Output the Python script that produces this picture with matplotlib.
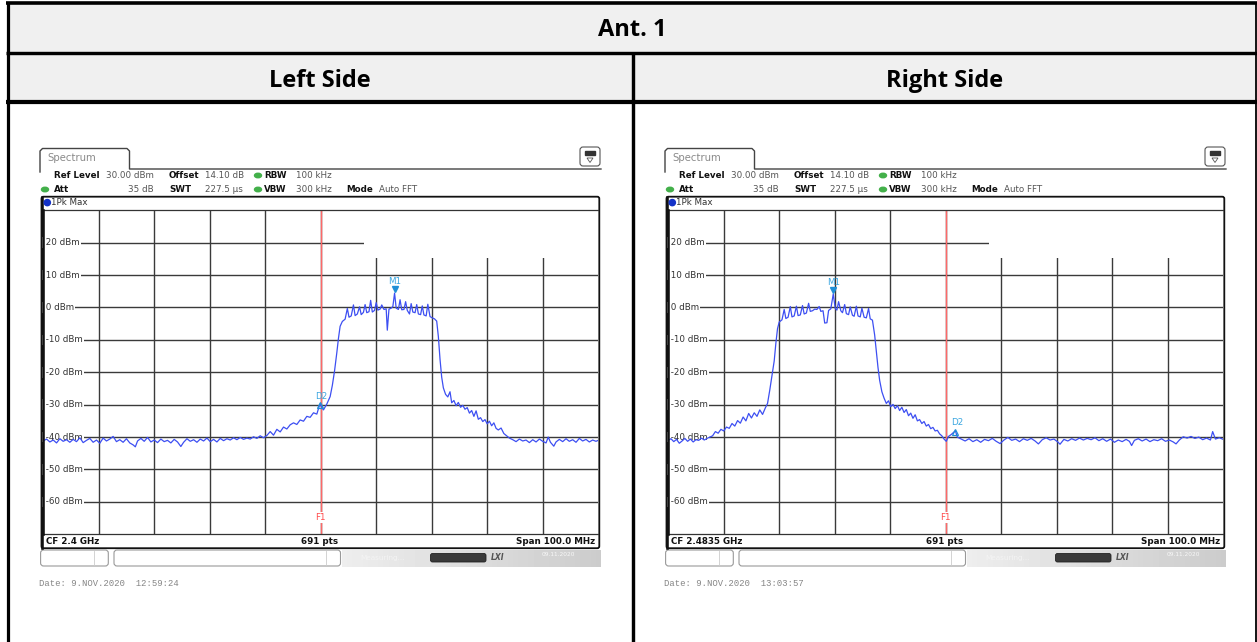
import matplotlib
matplotlib.use('Agg')
import matplotlib.pyplot as plt
from matplotlib.patches import Rectangle, FancyBboxPatch, Circle, Ellipse, Polygon
import numpy as np

W, H = 1257, 642

# trace of the left side screenshot (MHz, dBm)
left_freq = [2350.0, 2350.6, 2351.2, 2351.8, 2352.4, 2353.0, 2353.6, 2354.2, 2354.8, 2355.4,
             2356.0, 2356.6, 2357.2, 2357.8, 2358.4, 2359.0, 2359.6, 2360.2, 2360.8, 2361.4,
             2362.0, 2362.6, 2363.2, 2363.8, 2364.4, 2365.0, 2365.6, 2366.2, 2366.6, 2367.0,
             2367.6, 2368.2, 2368.8, 2369.4, 2370.0, 2370.6, 2371.2, 2371.8, 2372.4, 2373.0,
             2373.6, 2374.2, 2374.8, 2375.3, 2375.9, 2376.5, 2377.1, 2377.7, 2378.3, 2378.9,
             2379.5, 2380.1, 2380.7, 2381.3, 2381.9, 2382.5, 2383.1, 2383.7, 2384.3, 2384.9,
             2385.5, 2386.1, 2386.7, 2387.3, 2387.9, 2388.5, 2389.1, 2389.7,
             2390.3, 2390.9, 2391.5, 2392.1, 2392.7, 2393.3, 2393.9, 2394.5, 2395.1, 2395.7,
             2396.3, 2396.9, 2397.5, 2398.1, 2398.7, 2399.3, 2399.85, 2400.5, 2401.1,
             2401.7, 2402.1, 2402.5, 2402.9, 2403.2, 2403.5, 2403.9, 2404.4,
             2404.8, 2405.1, 2405.5, 2405.9, 2406.2, 2406.6, 2407.0, 2407.3, 2407.7, 2408.0,
             2408.3, 2408.7, 2409.0, 2409.3, 2409.7, 2410.0, 2410.3, 2410.7, 2411.0, 2411.4,
             2411.8, 2412.0, 2412.3, 2412.7, 2413.0, 2413.31, 2413.6, 2414.0, 2414.3, 2414.6,
             2415.0, 2415.3, 2415.6, 2416.0, 2416.3, 2416.6, 2417.0, 2417.3, 2417.6, 2418.0,
             2418.3, 2418.6, 2419.0, 2419.3, 2419.7, 2420.1, 2420.5, 2420.9,
             2421.2, 2421.5, 2421.8, 2422.1, 2422.5, 2422.9, 2423.3, 2423.6, 2424.0, 2424.4,
             2424.8, 2425.2, 2425.6, 2426.0, 2426.4, 2426.8, 2427.2, 2427.6, 2428.0, 2428.4,
             2428.8, 2429.2, 2429.6, 2430.0, 2430.4, 2430.8, 2431.2, 2431.6, 2432.0, 2432.5,
             2433.0, 2433.5, 2434.0,
             2434.6, 2435.2, 2435.8, 2436.4, 2437.0, 2437.6, 2438.2, 2438.8, 2439.4, 2440.0,
             2440.6, 2441.0, 2441.4, 2442.0, 2442.4, 2443.0, 2443.6, 2444.2, 2444.8, 2445.4,
             2446.0, 2446.6, 2447.2, 2447.8, 2448.4, 2449.0, 2449.6, 2450.0]
left_level = [-41.2, -40.6, -41.5, -40.9, -41.8, -40.5, -41.3, -40.8, -41.6, -40.7,
              -41.4, -40.2, -41.7, -41.0, -40.4, -41.6, -40.9, -41.9, -40.3, -41.2,
              -40.6, -39.8, -41.4, -40.8, -41.6, -40.5, -41.8, -42.4, -43.0, -41.2,
              -40.4, -41.3, -40.1, -41.5, -40.9, -41.7, -40.6, -41.4, -41.0, -41.8,
              -40.7, -41.5, -42.9, -41.6, -40.5, -41.3, -40.8, -41.6, -40.6, -41.2,
              -40.3, -41.4, -40.7, -41.5, -40.4, -41.1, -40.5, -40.9, -40.2, -40.8,
              -40.1, -40.7, -40.3, -40.6, -39.9, -40.4, -39.6, -40.2,
              -39.5, -38.3, -39.4, -37.6, -38.4, -36.9, -37.5, -36.2, -35.6, -36.1,
              -34.7, -35.1, -33.6, -33.9, -32.5, -32.9, -29.8, -31.6, -29.8,
              -27.5, -24.0, -19.5, -14.0, -9.5, -5.8, -4.3, -3.6,
              -0.3, -3.0, -2.6, 0.8, -2.5, -2.0, 0.2, -2.2, -1.5, 0.9,
              -1.6, -1.3, 2.2, -1.4, -0.9, 1.5, -0.8, -0.5, 0.8, -0.6,
              -0.4, -7.0, -0.5, -0.2, 0.3, 4.44, -0.2, -0.6, 2.4, -0.7,
              -0.6, 1.8, -0.9, -2.0, 1.2, -1.4, -1.6, 0.9, -2.0, -2.2,
              0.5, -2.3, -2.6, 1.0, -2.8, -3.2, -3.5, -4.2,
              -9.0, -16.0, -21.5, -24.8, -26.8, -27.6, -26.0, -29.4, -28.7, -30.3,
              -29.3, -30.8, -30.2, -31.4, -30.9, -32.6, -31.8, -33.6, -31.9, -34.5,
              -34.0, -35.2, -34.6, -35.9, -35.1, -36.5, -35.6, -37.3, -37.8, -37.2,
              -38.9, -39.6, -40.3,
              -40.8, -41.4, -40.6, -41.2, -40.9, -41.7, -40.8, -41.5, -40.6, -41.3,
              -41.8, -40.0, -41.6, -42.8, -41.5, -40.7, -41.4, -40.5, -41.3, -40.8,
              -41.6, -40.4, -41.2, -40.7, -41.5, -40.9, -41.3, -41.0]

# trace of the right side screenshot (MHz, dBm)
right_freq = [2433.5, 2434.0, 2434.5, 2435.0, 2435.5, 2436.0, 2436.5, 2437.0, 2437.5, 2438.0,
              2438.5, 2439.0, 2439.5, 2440.0, 2440.5, 2441.0, 2441.5,
              2442.0, 2442.5, 2443.0, 2443.5, 2444.0, 2444.5, 2445.0, 2445.5, 2446.0, 2446.5,
              2447.0, 2447.5, 2448.0, 2448.5, 2449.0, 2449.5, 2450.0, 2450.5, 2451.0, 2451.4,
              2451.8, 2452.2, 2452.6, 2452.9, 2453.2, 2453.5, 2454.0,
              2454.4, 2454.7, 2455.1, 2455.5, 2455.8, 2456.2, 2456.6, 2456.9, 2457.3, 2457.7,
              2458.0, 2458.4, 2458.8, 2459.1, 2459.5, 2459.9, 2460.3, 2460.7, 2461.0, 2461.4,
              2461.7, 2462.1, 2462.4, 2462.8, 2463.24, 2463.6, 2463.9, 2464.2, 2464.6, 2464.9,
              2465.3, 2465.6, 2466.0, 2466.3, 2466.7, 2467.0, 2467.4, 2467.7, 2468.1, 2468.4,
              2468.8, 2469.2, 2469.6, 2469.9, 2470.3,
              2470.7, 2471.0, 2471.3, 2471.6, 2472.0, 2472.4, 2472.8, 2473.2, 2473.6, 2474.0,
              2474.4, 2474.8, 2475.2, 2475.6, 2476.0, 2476.4, 2476.8, 2477.2, 2477.6, 2478.0,
              2478.4, 2478.8, 2479.2, 2479.6, 2480.0, 2480.4, 2480.8, 2481.2, 2481.6, 2482.0,
              2482.4, 2482.8, 2483.2, 2483.6, 2484.0, 2484.5, 2485.24, 2485.6,
              2486.3, 2487.0, 2487.7, 2488.4, 2489.1, 2489.8, 2490.5, 2491.2, 2491.9, 2492.6,
              2493.3, 2494.0, 2494.7, 2495.4, 2496.1, 2496.8, 2497.5, 2498.2, 2498.9, 2499.6,
              2500.2, 2500.9, 2501.6, 2502.3, 2503.0, 2503.7, 2504.1, 2504.8, 2505.5, 2506.2,
              2506.9, 2507.6, 2508.3, 2509.0, 2509.7, 2510.4, 2511.1, 2511.8, 2512.5, 2513.2,
              2513.9, 2514.6, 2515.3, 2516.0, 2516.6, 2517.0, 2517.5, 2518.2, 2518.9, 2519.6,
              2520.3, 2521.0, 2521.7, 2522.4, 2523.1, 2523.8, 2524.5, 2525.0, 2525.6, 2526.3,
              2527.0, 2527.7, 2528.4, 2529.1, 2529.8, 2530.5, 2531.2, 2531.6, 2532.1, 2532.8,
              2533.5]
right_level = [-41.0, -40.5, -41.4, -40.7, -41.9, -41.2, -40.4, -41.3, -40.6, -41.5,
               -40.8, -41.0, -40.3, -40.9, -40.4, -40.0, -39.6,
               -38.3, -38.8, -37.6, -38.1, -36.9, -37.3, -35.8, -36.6, -34.9, -35.7,
               -33.8, -35.0, -32.7, -34.1, -32.5, -33.6, -31.6, -33.0, -31.0, -29.6,
               -25.5, -21.0, -16.5, -11.0, -6.5, -4.5, -3.8,
               -0.6, -3.4, -3.0, 0.3, -2.9, -2.6, 0.4, -2.5, -2.3, 0.6,
               -2.0, -1.7, 1.3, -1.2, -1.0, -0.5, -0.6, 0.3, -1.2, -1.0,
               -4.8, -4.7, -0.9, -0.4, 4.18, -0.3, -0.8, 1.8, -1.0, -1.6,
               0.9, -1.9, -2.2, 0.2, -2.4, -2.7, 0.4, -2.6, -2.9, -0.2,
               -3.0, -3.2, -0.3, -3.5, -3.9,
               -8.5, -13.5, -18.5, -22.5, -26.0, -28.0, -29.6, -28.8, -30.6, -29.9,
               -31.2, -30.3, -31.8, -30.8, -32.4, -31.5, -33.4, -32.6, -34.2, -33.1,
               -35.0, -34.6, -35.8, -35.2, -36.6, -36.1, -37.4, -37.0, -38.1, -37.9,
               -39.0, -39.6, -40.6, -41.3, -39.8, -39.2, -38.04, -40.0,
               -40.6, -41.2, -40.5, -41.4, -40.8, -41.6, -40.7, -41.1, -40.4, -41.3,
               -42.0, -40.9, -40.1, -41.0, -40.6, -41.4, -40.5, -41.0, -40.4, -41.2,
               -42.1, -40.8, -40.2, -40.9, -40.6, -41.5, -42.2, -40.7, -41.2, -40.5,
               -41.0, -40.3, -40.9, -40.4, -40.8, -40.2, -41.1, -40.5, -41.3, -40.6,
               -41.6, -40.9, -41.4, -40.7, -41.3, -42.6, -41.0, -40.5, -41.2, -40.6,
               -41.4, -40.8, -41.1, -40.5, -41.3, -40.9, -41.5, -42.1, -40.9, -39.9,
               -40.3, -39.8, -40.4, -40.0, -40.8, -40.3, -40.9, -38.3, -40.6, -40.2,
               -40.7]

level_ticks = [20, 10, 0, -10, -20, -30, -40, -50, -60]
left_readout = ["4.44 dBm", "2.413310 GHz", "-34.23 dB", "-13.459 MHz"]
right_readout = ["4.18 dBm", "2.463240 GHz", "-42.22 dB", "22.000 MHz"]

BLUE_TXT = '#2a9ad8'
MONO = 'Liberation Mono'

fig = plt.figure(figsize=(W / 100, H / 100), dpi=100)
bg = fig.add_axes([0, 0, 1, 1])
bg.set_xlim(0, W)
bg.set_ylim(H, 0)
bg.axis('off')

# table frame and header rows
bg.add_patch(Rectangle((8, 4), 1248, 97, color='#f0f0f0', zorder=0))
k = 0.72  # px -> pt
bg.plot([6, 1257], [3.2, 3.2], color='k', lw=3.6 * k, solid_capstyle='butt')
bg.plot([6, 1257], [52.5, 52.5], color='k', lw=3.4 * k, solid_capstyle='butt')
bg.plot([6, 1257], [101.5, 101.5], color='k', lw=4.2 * k, solid_capstyle='butt')
bg.plot([7.5, 7.5], [1.5, H], color='k', lw=3.2 * k, solid_capstyle='butt')
bg.plot([632.5, 632.5], [52.5, H], color='k', lw=3.4 * k, solid_capstyle='butt')
bg.plot([1256.3, 1256.3], [1.5, H], color='k', lw=1.8 * k, solid_capstyle='butt')

hdr = dict(family=['Open Sans', 'DejaVu Sans'], weight='bold', fontsize=17, ha='center', va='baseline')
bg.text(632, 36.5, 'Ant. 1', **hdr)
bg.text(320, 87, 'Left Side', **hdr)
bg.text(945, 87, 'Right Side', **hdr)


def draw_screen(dx, freq, level, f_lo, cf_text, m1, d2, readout, date_text):
    f1 = f_lo + 50
    lbl = dict(fontsize=6.3, va='center', family='DejaVu Sans')

    # tab + settings icon
    bg.plot(np.array([40, 40, 42.5, 127, 129.5, 129.5, 601]) + dx,
            [172, 151, 148.5, 148.5, 151, 169, 169], color='#444', lw=1.0)
    bg.text(47.3 + dx, 158.3, 'Spectrum', fontsize=7.3, color='#8a8a8a', va='center')
    bg.add_patch(FancyBboxPatch((580 + dx, 147), 20, 19, boxstyle='round,pad=0,rounding_size=3',
                                fc='white', ec='#555', lw=0.8))
    bg.add_patch(Rectangle((585 + dx, 151), 10, 4, color='#333'))
    bg.add_patch(Polygon([(587 + dx, 158), (593 + dx, 158), (590 + dx, 162.5)], closed=True,
                         fc='white', ec='#555', lw=0.6))

    # setting lines
    bold = dict(lbl, weight='bold', color='#111')
    norm = dict(lbl, color='#555')
    bg.text(54 + dx, 175, 'Ref Level', **bold)
    bg.text(106 + dx, 175, '30.00 dBm', **norm)
    bg.text(169 + dx, 175, 'Offset', **bold)
    bg.text(205 + dx, 175, '14.10 dB', **norm)
    bg.text(264 + dx, 175, 'RBW', **bold)
    bg.text(296 + dx, 175, '100 kHz', **norm)
    bg.text(54 + dx, 189, 'Att', **bold)
    bg.text(154 + dx, 189, '35 dB', ha='right', **norm)
    bg.text(169 + dx, 189, 'SWT', **bold)
    bg.text(205 + dx, 189, '227.5 µs', **norm)
    bg.text(264 + dx, 189, 'VBW', **bold)
    bg.text(296 + dx, 189, '300 kHz', **norm)
    bg.text(346 + dx, 189, 'Mode', **bold)
    bg.text(379 + dx, 189, 'Auto FFT', **norm)
    for (x, y) in [(258, 175.5), (258, 189.5), (45, 189.5)]:
        bg.add_patch(Ellipse((x + dx, y), 7, 4.5, color='#43b04a'))

    # frame
    bg.add_patch(FancyBboxPatch((41.5 + dx, 196.7), 557.8, 351.5, boxstyle='round,pad=0,rounding_size=2',
                                fc='white', ec='#111', lw=1.3, zorder=1))
    bg.plot([42 + dx, 42 + dx], [196.7, 548], color='#111', lw=2.6 * k, zorder=2)
    bg.add_patch(Circle((47.3 + dx, 202.6), 3.1, color='#1432c8', zorder=3))
    bg.text(51 + dx, 202.6, '1Pk Max', color='#333', zorder=3, **lbl)
    bg.text(46 + dx, 541, cf_text, zorder=3, **bold)
    bg.text(320 + dx, 541, '691 pts', ha='center', zorder=3, **bold)
    bg.text(595 + dx, 541, 'Span 100.0 MHz', ha='right', zorder=3, **bold)

    # marker readout
    mk = dict(lbl, color=BLUE_TXT, weight='bold', zorder=6)
    bg.text(366 + dx, 217.3, 'M1[1]', **mk)
    bg.text(366 + dx, 241.7, 'D2[1]', **mk)
    for txt, y in zip(readout, [217.3, 229.3, 241.7, 254]):
        bg.text(596.5 + dx, y, txt, ha='right', **mk)

    # status bar + date
    bg.add_patch(FancyBboxPatch((40.6 + dx, 550), 67.7, 16, boxstyle='round,pad=0,rounding_size=3',
                                fc='white', ec='#999', lw=0.8))
    bg.plot([94 + dx, 94 + dx], [551, 565], color='#ccc', lw=0.6)
    bg.add_patch(FancyBboxPatch((114 + dx, 550), 226.5, 16, boxstyle='round,pad=0,rounding_size=3',
                                fc='white', ec='#999', lw=0.8))
    bg.plot([325.7 + dx, 325.7 + dx], [551, 565], color='#ccc', lw=0.6)
    grad = np.linspace(0.93, 0.80, 50).reshape(1, -1)
    bg.imshow(grad, cmap='gray', vmin=0, vmax=1, aspect='auto',
              extent=(342 + dx, 601 + dx, 566.7, 550), zorder=1)
    bg.text(360 + dx, 558, 'Measuring...', fontsize=5.2, color='#f4f4f4', va='center', zorder=2)
    bg.add_patch(FancyBboxPatch((430.5 + dx, 553.5), 55.5, 8.5, boxstyle='round,pad=0,rounding_size=2',
                                fc='#3a3a3a', ec='#222', lw=0.6, zorder=2))
    bg.text(491 + dx, 558, 'LXI', fontsize=5.5, style='italic', weight='bold', color='#555',
            va='center', zorder=2)
    bg.text(558 + dx, 554.5, '09.11.2020', fontsize=4.2, color='#f8f8f8', ha='center', va='center', zorder=2)
    bg.set_xlim(0, W)
    bg.set_ylim(H, 0)
    bg.text(39.4 + dx, 583.3, date_text, fontsize=6.4, family=MONO, color='#858585', va='center')

    # grid area
    gx0, gx1, gy0, gy1 = 43.2 + dx, 598.2 + dx, 210.3, 534.3
    ax = fig.add_axes([gx0 / W, 1 - gy1 / H, (gx1 - gx0) / W, (gy1 - gy0) / H])
    ax.set_xlim(f_lo, f_lo + 100)
    ax.set_ylim(-70, 30)
    ax.set_xticks([f_lo + 10 * i for i in range(1, 10)])
    ax.set_yticks(level_ticks)
    ax.tick_params(length=0, labelbottom=False, labelleft=False)
    ax.set_axisbelow(True)
    ax.grid(color='#3a3a3a', lw=1.0)
    for s in ['top', 'bottom']:
        ax.spines[s].set_color('#333')
        ax.spines[s].set_linewidth(0.9)
    ax.spines['left'].set_visible(False)
    ax.spines['right'].set_visible(False)
    ax.patch.set_alpha(0)

    # blank box behind the readout
    ax.add_patch(Rectangle((f_lo + 57.8, 15.3), 42.2, 14.7, fc='white', ec='none', zorder=1))
    for t in level_ticks:
        ax.text(0.0, t, f' {t} dBm', transform=ax.get_yaxis_transform(), fontsize=6.3,
                color='#333', va='center', zorder=1.5,
                bbox=dict(fc='white', ec='none', pad=0.6))
    # thick left edge of the screen frame, drawn over the label boxes
    ax.axvline(f_lo, color='#111', lw=2.6 * k, zorder=5, clip_on=False)

    ax.axvline(f1, color='#ff6868', lw=1.0, zorder=2.5)
    ax.text(f1, -64.8, 'F1', color='#ff4a4a', fontsize=6.3, ha='center', va='center', zorder=2.6,
            bbox=dict(fc='white', ec='none', pad=0.5))
    ax.plot(freq, level, color='#3d4ff2', lw=0.9, zorder=3)

    ax.plot(m1[0], m1[1] + 1.2, marker='v', ms=4.5, color='#1f8fd6', zorder=4)
    ax.text(m1[0], m1[1] + 3.5, 'M1', color='#3aa6e0', fontsize=6.3, ha='center', va='center', zorder=4)
    ax.plot(d2[0], d2[1] - 0.4, marker='^', ms=3.8, mfc='none', mec='#1f8fd6', mew=0.9, zorder=4)
    ax.text(d2[0] + 0.3, d2[1] + 2.4, 'D2', color='#3aa6e0', fontsize=6.3, ha='center', va='center', zorder=4)


draw_screen(0, left_freq, left_level, 2350.0, 'CF 2.4 GHz', (2413.31, 4.44), (2399.85, -29.79),
            left_readout, 'Date: 9.NOV.2020  12:59:24')
draw_screen(625, right_freq, right_level, 2433.5, 'CF 2.4835 GHz', (2463.24, 4.18), (2485.24, -38.04),
            right_readout, 'Date: 9.NOV.2020  13:03:57')

fig.savefig('out.png', dpi=100)
